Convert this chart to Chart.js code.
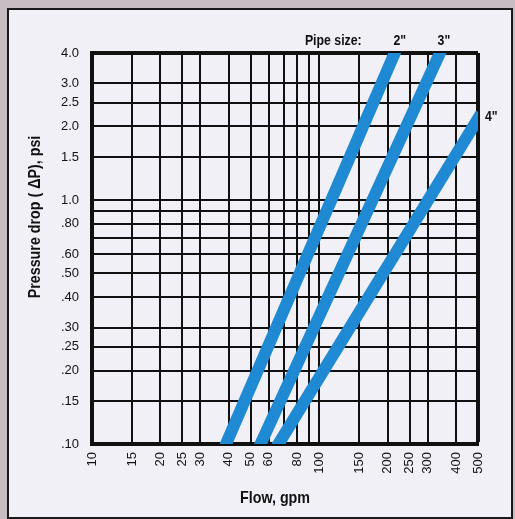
<!DOCTYPE html>
<html>
<head>
<meta charset="utf-8">
<script src="https://cdn.jsdelivr.net/npm/chart.js@4.4.0/dist/chart.umd.min.js"></script>
<style>
  html, body { margin: 0; padding: 0; }
  body { width: 515px; height: 519px; background: #c9bdc4; overflow: hidden; position: relative; }
  #panel { position: absolute; left: 7px; top: 8px; width: 506px; height: 511px; box-sizing: border-box; border: 2px solid #1a1a1a; background: #f0f0f6; }
  canvas { display: block; }
</style>
</head>
<body>
<div id="panel"><canvas id="chart-canvas" width="502" height="507"></canvas></div>
<script>
const FONT = "'Liberation Sans', Arial, sans-serif";

// axis ticks (grid lines) and their labels
const flowTicks = [10, 15, 20, 25, 30, 40, 50, 60, 70, 80, 90, 100, 150, 200, 250, 300, 400, 500];
const flowTickLabels = ["10", "15", "20", "25", "30", "40", "50", "60", "", "80", "", "100", "150", "200", "250", "300", "400", "500"];
const dropTicks = [0.1, 0.15, 0.2, 0.25, 0.3, 0.4, 0.5, 0.6, 0.7, 0.8, 0.9, 1.0, 1.5, 2.0, 2.5, 3.0, 4.0];
const dropTickLabels = [".10", ".15", ".20", ".25", ".30", ".40", ".50", ".60", "", ".80", "", "1.0", "1.5", "2.0", "2.5", "3.0", "4.0"];

// pipe curves (straight on log-log)
const pipeSizes = ['2"', '3"', '4"'];
const flow2in = [38.9, 215];
const drop2in = [0.1, 4.0];
const flow3in = [55.2, 340];
const drop3in = [0.1, 4.0];
const flow4in = [66.2, 500];
const drop4in = [0.1, 2.15];

const lineBlue = "#1f8ad3";

function toPoints(xs, ys) {
  return xs.map((x, i) => ({ x: x, y: ys[i] }));
}

function makeDataset(label, xs, ys) {
  return {
    label: label,
    data: toPoints(xs, ys),
    borderColor: lineBlue,
    backgroundColor: lineBlue,
    borderWidth: 12,
    borderCapStyle: "square",
    pointRadius: 0,
    tension: 0
  };
}

// condensed-looking text: squeeze horizontally
function narrowText(ctx, text, x, y, squeeze, angle) {
  ctx.save();
  ctx.translate(x, y);
  if (angle) ctx.rotate(angle);
  ctx.scale(squeeze, 1);
  ctx.fillText(text, 0, 0);
  ctx.restore();
}

// text that sits around the plot: axis titles and pipe size labels
const chartTexts = {
  id: "chartTexts",
  afterDraw(chart) {
    const { ctx, chartArea } = chart;
    ctx.save();
    ctx.fillStyle = "#111";
    ctx.textBaseline = "alphabetic";

    ctx.font = "bold 17px " + FONT;
    ctx.textAlign = "center";
    narrowText(ctx, "Flow, gpm", 266, 493, 0.84);
    narrowText(ctx, "Pressure drop ( \u0394P), psi", 31, 207, 0.84, -Math.PI / 2);

    ctx.font = "bold 14px " + FONT;
    const ends = chart.data.datasets.map((ds, i) => {
      const pts = chart.getDatasetMeta(i).data;
      return pts[pts.length - 1];
    });
    const top = chartArea.top - 8;
    ctx.textAlign = "center";
    narrowText(ctx, pipeSizes[0], ends[0].x + 5, top, 0.88);
    narrowText(ctx, pipeSizes[1], ends[1].x + 4, top, 0.88);
    ctx.textAlign = "left";
    narrowText(ctx, pipeSizes[2], chartArea.right + 7, ends[2].y + 2, 0.88);
    ctx.textAlign = "right";
    narrowText(ctx, "Pipe size:", ends[0].x - 33, top, 0.88);
    ctx.restore();
  }
};

const chartCanvas = document.getElementById("chart-canvas");

const config = {
  type: "line",
  data: {
    datasets: [
      makeDataset(pipeSizes[0], flow2in, drop2in),
      makeDataset(pipeSizes[1], flow3in, drop3in),
      makeDataset(pipeSizes[2], flow4in, drop4in)
    ]
  },
  options: {
    responsive: false,
    animation: false,
    devicePixelRatio: 1,
    layout: { padding: { top: 43, right: 33, left: 0, bottom: 0 } },
    plugins: {
      legend: { display: false },
      tooltip: { enabled: false }
    },
    scales: {
      x: {
        type: "logarithmic",
        min: 10,
        max: 500,
        afterBuildTicks: (axis) => {
          axis.ticks = flowTicks.map((v) => ({ value: v }));
        },
        afterFit: (axis) => {
          axis.height = 73;
        },
        ticks: {
          autoSkip: false,
          minRotation: 90,
          maxRotation: 90,
          padding: 8,
          color: "#111",
          font: { family: FONT, size: 13 },
          callback: (value) => flowTickLabels[flowTicks.indexOf(value)]
        },
        grid: {
          color: "#111",
          lineWidth: (c) => (c.tick && c.tick.value === 500 ? 4 : 2),
          drawTicks: false
        },
        border: { color: "#111", width: 4 }
      },
      y: {
        type: "logarithmic",
        min: 0.1,
        max: 4,
        afterBuildTicks: (axis) => {
          axis.ticks = dropTicks.map((v) => ({ value: v }));
        },
        afterFit: (axis) => {
          axis.width = 83;
        },
        ticks: {
          autoSkip: false,
          padding: 13,
          color: "#111",
          font: { family: FONT, size: 13 },
          callback: (value) => dropTickLabels[dropTicks.indexOf(value)]
        },
        grid: {
          color: "#111",
          lineWidth: (c) => (c.tick && c.tick.value === 4 ? 4 : 2),
          drawTicks: false
        },
        border: { color: "#111", width: 4 }
      }
    }
  },
  plugins: [chartTexts]
};

new Chart(chartCanvas, config);
</script>
</body>
</html>
